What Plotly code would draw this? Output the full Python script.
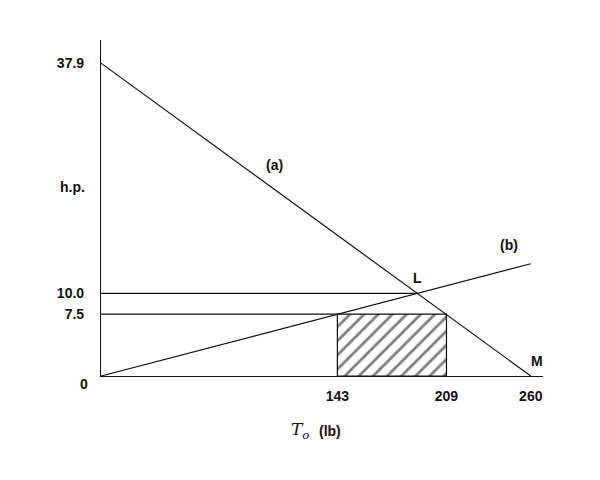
import plotly.graph_objects as go

# power curve (a) and load line (b), in T_o (lb) vs h.p.
line_a_x = [0, 260]
line_a_y = [37.9, 0]
line_b_x = [0, 260]
line_b_y = [0, 13.6]

# shaded operating range
rect_x = [143, 209]
rect_hp = 7.5
level_hp = 10.0

x_ticks = [143, 209, 260]
y_ticks = [37.9, 10.0, 7.5]
y_tick_text = ['37.9', '10.0', '7.5']

FONT = 'Liberation Sans, Arial, sans-serif'
INK = '#111111'

# point L where (a) crosses the 10 h.p. level
slope_a = (line_a_y[1] - line_a_y[0]) / (line_a_x[1] - line_a_x[0])
x_l = (level_hp - line_a_y[0]) / slope_a

fig = go.Figure()

fig.add_trace(go.Scatter(
    x=[rect_x[0], rect_x[1], rect_x[1], rect_x[0], rect_x[0]],
    y=[0, 0, rect_hp, rect_hp, 0],
    mode='lines',
    fill='toself',
    fillcolor='white',
    fillpattern={'shape': '/', 'size': 10, 'solidity': 0.28,
                 'fgcolor': '#000000', 'bgcolor': 'white'},
    line={'color': INK, 'width': 1.2},
))

fig.add_trace(go.Scatter(x=line_a_x, y=line_a_y, mode='lines',
                         line={'color': INK, 'width': 1.2}))
fig.add_trace(go.Scatter(x=line_b_x, y=line_b_y, mode='lines',
                         line={'color': INK, 'width': 1.2}))
fig.add_trace(go.Scatter(x=[0, x_l], y=[level_hp, level_hp], mode='lines',
                         line={'color': INK, 'width': 1.2}))
fig.add_trace(go.Scatter(x=[0, rect_x[0]], y=[rect_hp, rect_hp], mode='lines',
                         line={'color': INK, 'width': 1.2}))

label_font = {'family': FONT, 'size': 14, 'color': INK, 'weight': 'bold'}


def note(text, x, y, **kw):
    fig.add_annotation(text=text, x=x, y=y, showarrow=False, font=label_font, **kw)


note('(a)', 105, 25.5)
note('(b)', 247, 15.9)
note('L', x_l, level_hp, yshift=15)
note('M', 260, 0, xshift=6, yshift=15)
note('0', 0, 0, xanchor='right', xshift=-11, yshift=-8)
note('h.p.', 0, 22.9, xanchor='right', xshift=-14)

# axis title sits below the plot, so its height is given on the paper
note('(lb)', 138.5, -0.165, yref='paper', yanchor='middle')
fig.add_annotation(text='<i>T<sub>o</sub></i>', x=120.5, y=-0.163, yref='paper',
                   yanchor='middle', showarrow=False,
                   font={'family': 'DejaVu Serif, serif', 'size': 17, 'color': INK})

fig.update_layout(
    width=600,
    height=480,
    showlegend=False,
    plot_bgcolor='white',
    paper_bgcolor='white',
    margin={'l': 93, 'r': 65, 't': 32, 'b': 112},
    xaxis={
        'range': [0, 267.4],
        'showgrid': False,
        'zeroline': False,
        'showline': True,
        'linecolor': INK,
        'linewidth': 1.2,
        'tickvals': x_ticks,
        'ticks': '',
        'ticklabelstandoff': 7,
        'tickfont': label_font,
    },
    yaxis={
        'range': [0, 40.7],
        'showgrid': False,
        'zeroline': False,
        'showline': True,
        'linecolor': INK,
        'linewidth': 1.2,
        'tickvals': y_ticks,
        'ticktext': y_tick_text,
        'ticks': '',
        'ticklabelstandoff': 13,
        'tickfont': label_font,
    },
)

fig.write_html('out.html')
